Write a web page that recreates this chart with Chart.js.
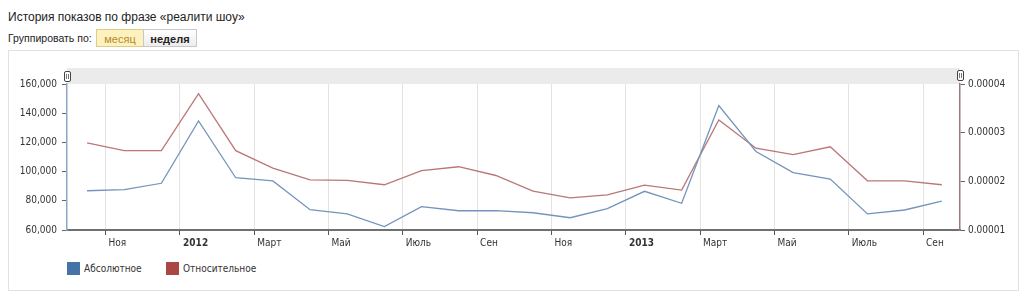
<!DOCTYPE html>
<html>
<head>
<meta charset="utf-8">
<script src="https://cdn.jsdelivr.net/npm/chart.js@4"></script>
<style>
  body { margin: 0; background: #fff; font-family: "Liberation Sans", Arial, sans-serif; }
  #title { position: absolute; left: 8px; top: 10px; font-size: 12px; color: #222; }
  #group { position: absolute; left: 8px; top: 32px; font-size: 10.5px; color: #222; }
  .btn { position: absolute; top: 29px; height: 18px; line-height: 18px; font-size: 11px; text-align: center; box-sizing: border-box; }
  #b1 { left: 96px; width: 48px; background: #fdf2bd; border: 1px solid #dccd8e; color: #b48a2a; }
  #b2 { left: 143px; width: 54px; background: linear-gradient(#fff, #ececec); border: 1px solid #c8c8c8; color: #222; font-weight: bold; }
  #box { position: absolute; left: 8px; top: 50px; width: 1011px; height: 241px; border: 1px solid #e2e2e2; box-sizing: border-box; }
  #c { position: absolute; left: 0; top: 0; }
  .leg { position: absolute; top: 211px; font: 10px "DejaVu Sans Condensed", "DejaVu Sans", sans-serif; color: #333; line-height: 13px; }
  .sw { display: inline-block; width: 13px; height: 13px; vertical-align: top; margin-right: 4px; }
</style>
</head>
<body>
<div id="title">История показов по фразе «реалити шоу»</div>
<div id="group">Группировать по:</div>
<div class="btn" id="b1">месяц</div>
<div class="btn" id="b2">неделя</div>
<div id="box">
  <canvas id="c" width="1009" height="200"></canvas>
  <div class="leg" style="left:58px"><span class="sw" style="background:#4572a7"></span>Абсолютное</div>
  <div class="leg" style="left:157px"><span class="sw" style="background:#aa4643"></span>Относительное</div>
</div>
<script>
// месяцы: окт 2011 .. сен 2013, точка стоит в середине месяца
const months = ['2011-10','2011-11','2011-12','2012-01','2012-02','2012-03','2012-04','2012-05',
  '2012-06','2012-07','2012-08','2012-09','2012-10','2012-11','2012-12','2013-01','2013-02',
  '2013-03','2013-04','2013-05','2013-06','2013-07','2013-08','2013-09'];
const absolute = [86900, 87600, 92000, 134700, 95800, 93600, 73900, 71000, 62300, 76000, 73200, 73300,
  71800, 68400, 74600, 86500, 78300, 145200, 113800, 99300, 94900, 71000, 73700, 79700];
const relative = [2.79e-5, 2.63e-5, 2.63e-5, 3.80e-5, 2.63e-5, 2.27e-5, 2.03e-5, 2.02e-5, 1.93e-5, 2.22e-5,
  2.30e-5, 2.12e-5, 1.80e-5, 1.66e-5, 1.72e-5, 1.92e-5, 1.82e-5, 3.26e-5, 2.68e-5, 2.55e-5, 2.71e-5,
  2.01e-5, 2.01e-5, 1.93e-5];
// деления — начало каждого второго месяца (ноя 2011 .. сен 2013)
const tickPositions = [0.5, 2.5, 4.5, 6.5, 8.5, 10.5, 12.5, 14.5, 16.5, 18.5, 20.5, 22.5];
const tickLabels = ['Ноя', '2012', 'Март', 'Май', 'Июль', 'Сен', 'Ноя', '2013', 'Март', 'Май', 'Июль', 'Сен'];
const leftTicks = [60000, 80000, 100000, 120000, 140000, 160000];
const rightTicks = [0.00001, 0.00002, 0.00003, 0.00004];

const FONT = '"DejaVu Sans Condensed", "DejaVu Sans", sans-serif';

// серая полоса навигатора сверху и ручки
function drawHandle(ctx, x, y) {
  ctx.fillStyle = '#fff';
  ctx.strokeStyle = '#444';
  ctx.lineWidth = 1;
  ctx.beginPath();
  ctx.roundRect(x + 0.5, y + 0.5, 6, 10, 1.5);
  ctx.fill(); ctx.stroke();
  ctx.strokeStyle = '#777';
  ctx.beginPath();
  ctx.moveTo(x + 2.5, y + 3); ctx.lineTo(x + 2.5, y + 8);
  ctx.moveTo(x + 4.5, y + 3); ctx.lineTo(x + 4.5, y + 8);
  ctx.stroke();
}
const navigator = {
  id: 'navigator',
  beforeDraw(chart) {
    const { ctx, chartArea: a } = chart;
    ctx.save();
    ctx.fillStyle = '#ebebeb';
    ctx.fillRect(a.left, a.top - 16, a.right - a.left, 16);
    ctx.restore();
  },
  afterDraw(chart) {
    const { ctx, chartArea: a } = chart;
    ctx.save();
    drawHandle(ctx, a.left - 3, a.top - 13);
    drawHandle(ctx, a.right - 3, a.top - 14);
    ctx.restore();
  }
};

new Chart(document.getElementById('c'), {
  type: 'line',
  data: {
    datasets: [
      { label: 'Абсолютное', data: absolute.map((v, i) => ({ x: i, y: v })), yAxisID: 'y',
        borderColor: '#7394bb', borderWidth: 1.3, pointRadius: 0, tension: 0 },
      { label: 'Относительное', data: relative.map((v, i) => ({ x: i, y: v })), yAxisID: 'y2',
        borderColor: '#bb7676', borderWidth: 1.3, pointRadius: 0, tension: 0 }
    ]
  },
  options: {
    responsive: false,
    animation: false,
    layout: { padding: { top: 33, left: 0, right: 0, bottom: 0 } },
    plugins: { legend: { display: false }, tooltip: { enabled: false } },
    scales: {
      x: {
        type: 'linear', min: -0.54, max: 23.49,
        afterBuildTicks: s => { s.ticks = tickPositions.map(v => ({ value: v })); },
        afterFit: s => { s.height = 21; },
        grid: { color: '#e3e3e3', tickColor: '#555', tickLength: 5, lineWidth: 1 },
        border: { color: '#707070', width: 2 },
        ticks: {
          autoSkip: false, maxRotation: 0, align: 'start', padding: 2, color: '#333',
          callback: (v, i) => ' ' + tickLabels[i],
          font: c => ({ family: FONT, size: 10, weight: /\d/.test(tickLabels[c.index] || '') ? 'bold' : 'normal' })
        }
      },
      y: {
        position: 'left', min: 60000, max: 160000,
        afterBuildTicks: s => { s.ticks = leftTicks.map(v => ({ value: v })); },
        afterFit: s => { s.width = 58; },
        grid: { drawOnChartArea: false, color: '#666', tickLength: 5 },
        border: { color: '#8ea6c8', width: 1.5 },
        ticks: { padding: 5, color: '#333', font: { family: FONT, size: 10 },
          callback: v => v.toLocaleString('en-US') }
      },
      y2: {
        position: 'right', min: 0.00001, max: 0.00004,
        afterBuildTicks: s => { s.ticks = rightTicks.map(v => ({ value: v })); },
        afterFit: s => { s.width = 58; },
        grid: { drawOnChartArea: false, color: '#666', tickLength: 5 },
        border: { color: '#9c7a7a', width: 1.5 },
        ticks: { padding: 3, color: '#333', font: { family: FONT, size: 10 },
          callback: v => v.toFixed(5) }
      }
    }
  },
  plugins: [navigator]
});
</script>
</body>
</html>
